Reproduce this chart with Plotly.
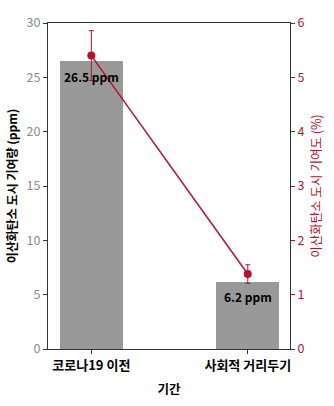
import plotly.graph_objects as go

# Period categories and values
periods = ["코로나19 이전", "사회적 거리두기"]
ppm_values = [26.5, 6.2]            # urban CO2 contribution (ppm), bars
pct_values = [5.4, 1.38]            # urban CO2 contribution share (%), line
pct_errors = [0.46, 0.17]           # error bar half-widths (%)
ppm_labels = ["26.5 ppm", "6.2 ppm"]

left_ticks = [0, 5, 10, 15, 20, 25, 30]
right_ticks = [0, 1, 2, 3, 4, 5, 6]

BAR_COLOR = "#999999"
RED = "#b5122d"
FONT = "Noto Sans CJK KR"

x_pos = list(range(len(periods)))

fig = go.Figure()

fig.add_trace(go.Bar(
    x=x_pos, y=ppm_values, width=0.4,
    marker=dict(color=BAR_COLOR, line=dict(width=0)),
    yaxis="y", showlegend=False,
))

fig.add_trace(go.Scatter(
    x=x_pos, y=pct_values, mode="lines+markers",
    line=dict(color=RED, width=1.5),
    marker=dict(color=RED, size=8),
    error_y=dict(type="data", array=pct_errors, color=RED, thickness=1, width=2.5),
    yaxis="y2", showlegend=False,
))

# Value labels just below each bar top
for xi, v, lab in zip(x_pos, ppm_values, ppm_labels):
    fig.add_annotation(
        x=xi, y=v - 1.4, xref="x", yref="y", text=f"<b>{lab}</b>",
        showarrow=False, yanchor="middle", xanchor="center",
        font=dict(family=FONT, size=12, color="black"),
    )

fig.update_layout(
    width=334, height=406,
    margin=dict(l=44, r=44, t=20, b=57),
    paper_bgcolor="white", plot_bgcolor="white",
    font=dict(family=FONT),
    bargap=0,
    xaxis=dict(
        range=[-0.277, 1.27],
        tickmode="array", tickvals=x_pos,
        ticktext=[f"<b>{p}</b>" for p in periods],
        tickfont=dict(size=13, color="black", family=FONT),
        ticks="outside", ticklen=4, tickcolor="#333",
        showline=True, linecolor="#333", linewidth=1, mirror=True,
        showgrid=False, zeroline=False,
        title=dict(text="<b>기간</b>", font=dict(size=12.5, color="black", family=FONT), standoff=12),
    ),
    yaxis=dict(
        range=[0, 30], tickmode="array", tickvals=left_ticks,
        tickfont=dict(size=12.5, color="#8a8a8a", family=FONT),
        ticks="outside", ticklen=4, tickcolor="#333",
        showline=True, linecolor="#333", linewidth=1,
        showgrid=False, zeroline=False,
        title=dict(text="<b>이산화탄소 도시 기여량 (ppm)</b>",
                   font=dict(size=12, color="black", family=FONT), standoff=6),
    ),
    yaxis2=dict(
        range=[0, 6], overlaying="y", side="right", tickmode="array", tickvals=right_ticks,
        tickfont=dict(size=12.5, color=RED, family=FONT),
        ticks="outside", ticklen=4, tickcolor=RED,
        showline=True, linecolor="#333", linewidth=1,
        showgrid=False, zeroline=False,
        title=dict(text="이산화탄소 도시 기여도 (%)",
                   font=dict(size=12.5, color=RED, family=FONT), standoff=8),
    ),
)

fig.write_html("out.html")
